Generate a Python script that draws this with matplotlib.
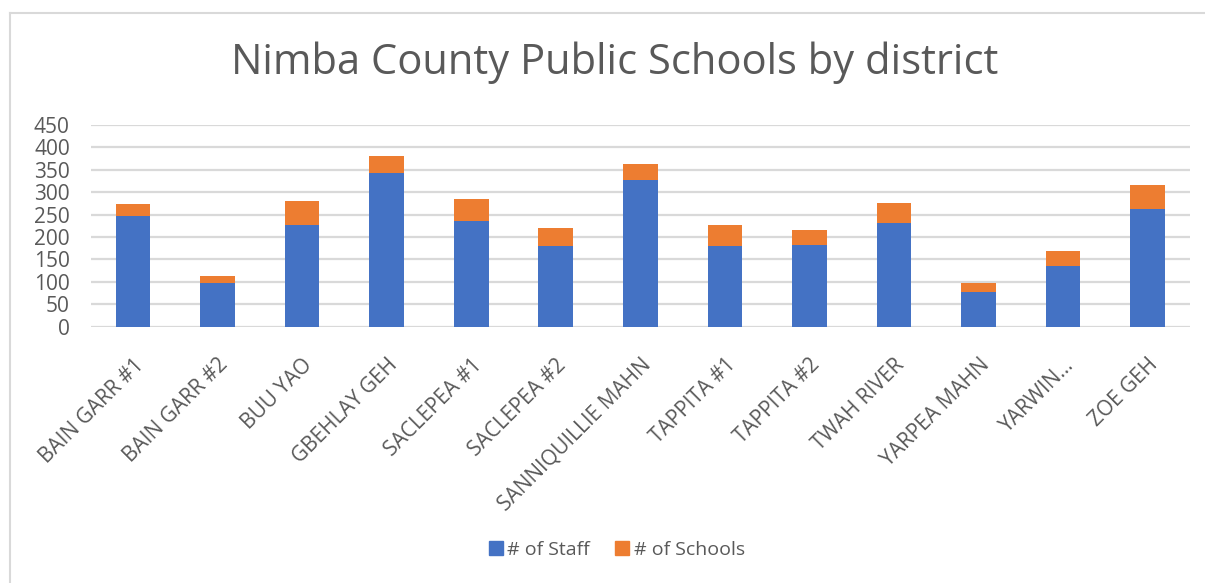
import matplotlib
matplotlib.use("Agg")
import matplotlib.pyplot as plt
from matplotlib.lines import Line2D
from matplotlib.patches import Patch

districts = ["BAIN GARR #1", "BAIN GARR #2", "BUU YAO", "GBEHLAY GEH", "SACLEPEA #1",
             "SACLEPEA #2", "SANNIQUILLIE MAHN", "TAPPITA #1", "TAPPITA #2",
             "TWAH RIVER", "YARPEA MAHN", "YARWIN…", "ZOE GEH"]
staff = [248, 97, 227, 342, 236, 179, 328, 179, 182, 232, 78, 136, 262]
schools = [26, 15, 53, 39, 50, 42, 35, 48, 33, 45, 19, 32, 54]
yticks = [0, 50, 100, 150, 200, 250, 300, 350, 400, 450]

plt.rcParams['font.family'] = ['Open Sans', 'DejaVu Sans']
text_col = '#595959'
blue = '#4472C4'
orange = '#ED7D31'

W, H = 1205, 583
fig = plt.figure(figsize=(W / 100, H / 100), dpi=100)
ax = fig.add_axes([90.7 / W, 1 - 326.7 / H, (1190 - 90.7) / W, (326.7 - 125) / H])

x = list(range(len(districts)))
ax.bar(x, staff, width=0.41, color=blue, label='# of Staff', zorder=3)
ax.bar(x, schools, width=0.41, bottom=staff, color=orange, label='# of Schools', zorder=3)

ax.set_xlim(-0.5, len(districts) - 0.5)
ax.set_ylim(0, 450)
ax.set_yticks(yticks)
ax.yaxis.grid(True, color='#D9D9D9', linewidth=1.6, zorder=0)
ax.set_axisbelow(True)
for s in ax.spines.values():
    s.set_visible(False)
ax.tick_params(axis='both', length=0, colors=text_col, labelsize=15)
ax.tick_params(axis='y', pad=15)
ax.set_xticks(x)
ax.set_xticklabels(districts, rotation=45, ha='right', rotation_mode='anchor')
ax.tick_params(axis='x', pad=20)

fig.text(0.510, 1 - 63 / H, "Nimba County Public Schools by district", ha='center', va='center',
         fontsize=30, color=text_col)

handles = [Patch(color=blue, label='# of Staff'), Patch(color=orange, label='# of Schools')]
fig.legend(handles=handles, loc='center', bbox_to_anchor=(0.512, 1 - 550 / H), ncol=2,
           frameon=False, fontsize=14, labelcolor=text_col, handlelength=0.7, handleheight=0.7,
           handletextpad=0.25, columnspacing=1.3)

# chart border (partially visible in the reference)
fig.add_artist(Line2D([10 / W, 1], [1 - 13 / H, 1 - 13 / H], color='#D9D9D9', linewidth=1.5,
                      transform=fig.transFigure))
fig.add_artist(Line2D([10 / W, 10 / W], [0, 1 - 13 / H], color='#D9D9D9', linewidth=1.5,
                      transform=fig.transFigure))

fig.savefig('out.png', dpi=100)
